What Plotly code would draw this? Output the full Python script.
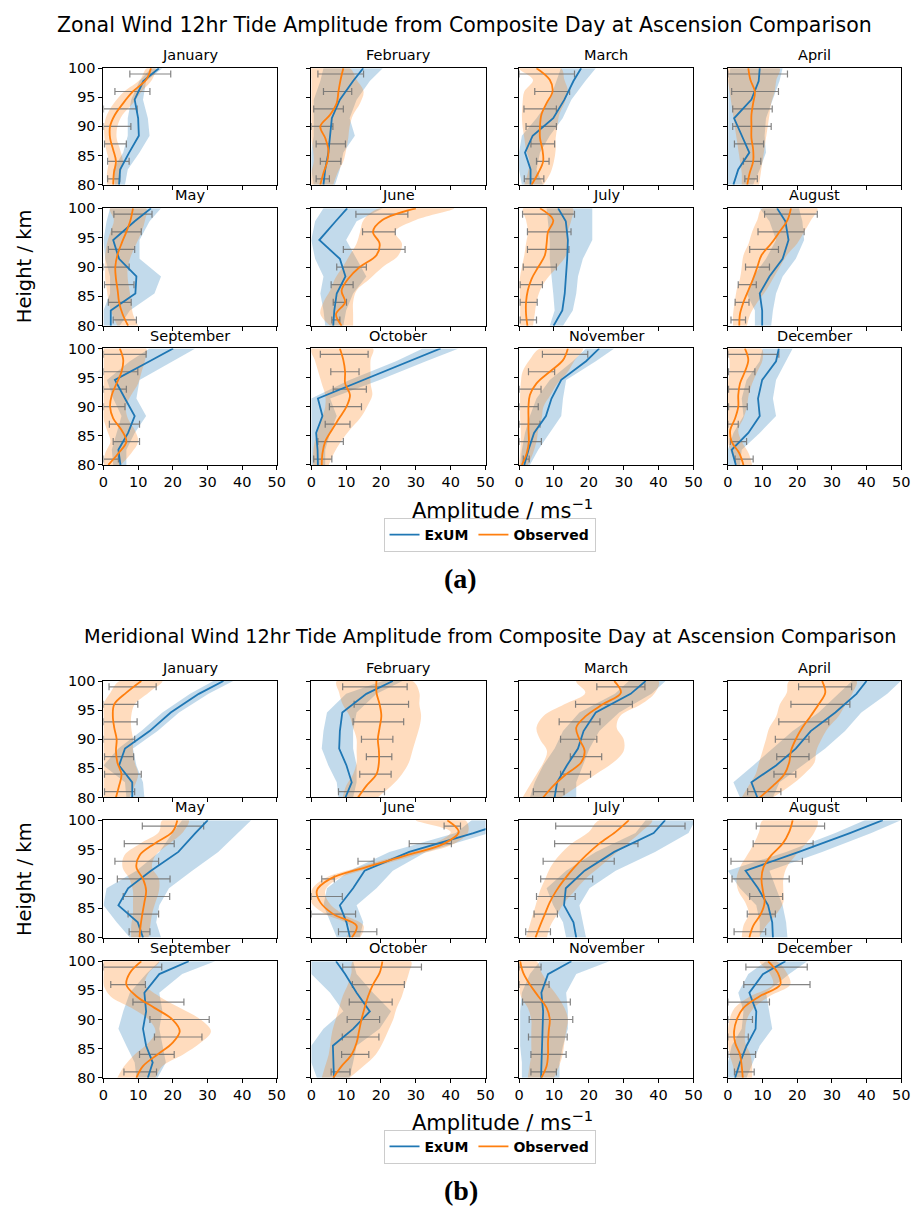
import plotly.graph_objects as go

W, H = 922, 1216

MONTHS = ["January", "February", "March", "April", "May", "June",
          "July", "August", "September", "October", "November", "December"]
MODEL_H = [80, 82.6, 85.5, 88.4, 91.4, 94.6, 97.8, 100]
OBS_H = [80, 82, 84, 86, 88, 90, 92, 94, 96, 98, 100]
ERR_H = [81, 84, 87, 90, 93, 96, 99]
XTICKS = [0, 10, 20, 30, 40, 50]
YTICKS = [80, 85, 90, 95, 100]

# ---------------- (a) Zonal wind ----------------
zonal_model = [
    [4.5, 4.8, 7.4, 10.2, 10.0, 9.0, 11.5, 16.0],
    [3.5, 4.0, 4.9, 5.4, 5.9, 8.2, 12.0, 14.9],
    [3.3, 3.3, 1.7, 3.9, 9.8, 13.0, 15.6, 17.8],
    [1.6, 3.0, 6.2, 4.0, 1.8, 6.8, 8.9, 9.2],
    [2.1, 2.1, 9.2, 9.5, 4.5, 2.8, 9.0, 13.7],
    [6.3, 6.6, 7.3, 9.8, 8.2, 2.3, 7.0, 10.3],
    [9.9, 12.4, 13.1, 13.5, 13.8, 14.0, 13.4, 11.2],
    [9.9, 9.9, 9.2, 12.0, 15.8, 17.5, 16.6, 14.2],
    [4.9, 4.3, 7.1, 9.0, 6.2, 3.3, 13.3, 20.1],
    [1.9, 1.8, 1.4, 3.2, 1.9, 15.2, 28.2, 37.1],
    [1.5, 2.7, 4.3, 7.7, 9.3, 12.1, 19.2, 23.0],
    [2.3, 1.1, 5.9, 9.2, 8.7, 9.9, 13.9, 14.7],
]
zonal_model_lo = [
    [3.3, 2.8, 5.7, 7.0, 7.0, 8.0, 10.4, 13.7],
    [0.7, 0.0, 0.0, 0.7, 0.7, 0.7, 2.6, 3.5],
    [0.8, 0.0, 0.0, 0.8, 5.0, 8.8, 10.7, 12.0],
    [0, 0, 0, 0, 0, 0, 0.2, 0.7],
    [0, 0, 1.9, 1.9, 0.5, 0, 0.9, 1.9],
    [4.0, 3.5, 2.6, 3.5, 1.1, 0.0, 1.1, 3.5],
    [8.8, 10.2, 9.8, 9.3, 8.8, 8.8, 8.3, 7.9],
    [7.8, 7.8, 5.4, 7.3, 11.0, 13.9, 12.0, 9.2],
    [2.8, 2.4, 3.8, 5.2, 2.8, 1.0, 7.6, 13.3],
    [0, 0, 0, 0, 0, 11.0, 24.3, 32.0],
    [0.3, 0.8, 1.7, 3.1, 5.0, 8.8, 15.4, 19.2],
    [0, 0, 1.6, 4.5, 4.0, 5.4, 9.2, 10.0],
]
zonal_model_hi = [
    [6.2, 7.0, 10.4, 13.3, 12.8, 11.4, 12.3, 17.0],
    [6.8, 8.2, 9.2, 12.5, 11.0, 13.0, 16.8, 20.5],
    [6.9, 5.0, 6.0, 8.8, 12.5, 15.0, 19.0, 22.0],
    [7.3, 9.2, 11.0, 10.6, 11.0, 13.0, 14.9, 15.8],
    [4.7, 7.6, 14.7, 16.6, 10.4, 10.4, 13.3, 16.6],
    [9.2, 10.0, 12.0, 15.8, 13.0, 10.0, 13.0, 20.5],
    [12.6, 15.4, 16.4, 16.9, 18.3, 21.0, 21.0, 21.0],
    [12.5, 13.0, 13.9, 15.8, 19.6, 22.0, 21.5, 20.5],
    [6.6, 6.6, 9.0, 12.3, 9.5, 10.4, 19.9, 26.5],
    [4.0, 4.0, 5.4, 7.3, 5.4, 19.6, 32.9, 42.3],
    [3.1, 5.5, 8.8, 12.1, 12.6, 13.5, 22.0, 27.3],
    [3.5, 4.0, 9.2, 13.9, 13.0, 13.9, 16.8, 18.7],
]
zonal_obs = [
    [2.8, 3.0, 3.6, 2.8, 1.9, 1.9, 3.3, 5.7, 8.5, 12.3, 13.7],
    [2.6, 3.5, 4.6, 4.9, 4.0, 2.6, 5.4, 7.3, 7.8, 8.4, 9.2],
    [3.6, 5.5, 6.9, 6.7, 6.0, 6.0, 6.4, 7.9, 9.6, 8.8, 5.0],
    [5.6, 6.3, 7.3, 7.3, 6.8, 6.8, 6.8, 7.3, 7.8, 6.5, 5.9],
    [7.1, 5.5, 4.5, 4.1, 3.6, 3.4, 4.0, 5.2, 6.6, 7.8, 8.5],
    [8.7, 7.1, 9.7, 8.7, 10.6, 13.9, 18.7, 19.6, 17.7, 20.4, 30.0],
    [2.4, 2.0, 2.0, 2.5, 3.6, 5.5, 7.4, 7.9, 8.3, 9.8, 6.0],
    [3.3, 3.5, 4.5, 5.9, 7.3, 8.5, 9.7, 12.5, 14.9, 17.2, 18.2],
    [1.4, 4.3, 6.6, 5.2, 2.8, 1.9, 2.4, 3.8, 5.2, 5.7, 4.7],
    [3.0, 3.2, 4.0, 5.9, 8.0, 10.1, 11.1, 9.7, 9.7, 9.2, 8.2],
    [0.8, 2.2, 2.8, 2.7, 2.7, 2.7, 3.1, 5.0, 8.8, 12.6, 14.0],
    [4.5, 3.3, 1.1, 0.7, 2.1, 3.0, 3.0, 3.5, 4.9, 5.9, 4.9],
]
zonal_obs_lo = [
    [1.0, 1.0, 1.5, 0.8, 0.3, 0.2, 1.0, 3.0, 6.0, 10.5, 12.5],
    [0, 0, 0.7, 0.5, 0, 0, 0, 0, 0, 0, 0],
    [1.5, 2.5, 3.0, 2.0, 1.5, 1.0, 0.8, 1.0, 1.5, 4.0, 0.0],
    [4.0, 4.0, 3.5, 3.0, 2.5, 2.0, 1.5, 1.0, 0.5, 0.0, 0.0],
    [4.0, 2.5, 1.5, 1.0, 0.5, 0.5, 0.5, 1.0, 2.0, 3.0, 1.9],
    [5.4, 2.6, 3.5, 5.4, 6.8, 9.0, 11.0, 13.0, 14.0, 15.0, 19.6],
    [0.3, 0.3, 0.3, 0.2, 0.2, 0.8, 1.5, 2.0, 2.5, 2.0, 1.2],
    [1.5, 1.5, 2.0, 2.5, 3.5, 4.0, 4.5, 6.0, 7.0, 8.5, 10.0],
    [0, 0.5, 2.0, 1.0, 0, 0, 0, 0, 0, 0, 0],
    [0.5, 0.5, 1.0, 2.0, 3.0, 4.0, 4.0, 3.0, 2.0, 1.0, 0.0],
    [0, 0.3, 0.5, 0.5, 0.3, 0.3, 0.3, 0.5, 1.0, 3.0, 6.0],
    [2.5, 1.0, 0, 0, 0, 0, 0, 0, 0.5, 0.5, 0],
]
zonal_obs_hi = [
    [4.5, 5.0, 5.6, 4.8, 3.8, 4.0, 5.5, 8.5, 11.0, 14.0, 15.0],
    [6.3, 7.5, 9.2, 10.0, 10.6, 11.0, 12.0, 14.0, 15.0, 13.0, 11.0],
    [7.0, 9.0, 10.0, 10.5, 10.5, 11.0, 11.5, 13.0, 14.0, 13.0, 12.0],
    [9.0, 9.5, 10.0, 10.5, 11.0, 11.5, 12.0, 12.5, 13.5, 14.0, 14.9],
    [10.0, 8.5, 8.0, 7.5, 7.0, 7.0, 8.0, 9.5, 11.0, 12.0, 12.3],
    [12.0, 12.0, 12.0, 13.0, 16.8, 20.5, 25.0, 26.0, 24.0, 30.0, 41.0],
    [4.0, 4.5, 5.0, 6.0, 8.0, 11.0, 13.5, 14.0, 14.0, 15.0, 15.4],
    [5.5, 6.5, 8.5, 11.0, 13.0, 15.0, 17.0, 20.0, 22.0, 24.0, 25.8],
    [5.0, 8.0, 10.0, 9.0, 7.0, 6.5, 8.0, 10.0, 11.0, 12.0, 12.3],
    [5.0, 6.5, 8.5, 11.0, 14.0, 16.0, 17.5, 17.0, 17.0, 17.0, 17.7],
    [2.5, 4.0, 5.0, 5.5, 6.5, 7.0, 9.0, 11.0, 14.0, 16.0, 18.3],
    [7.0, 6.0, 4.0, 3.0, 4.5, 5.5, 6.0, 7.0, 8.5, 10.0, 9.7],
]
zonal_err_lo = [
    [1.2, 1.2, 0.3, 0.0, 0.0, 3.3, 7.6],
    [1.4, 2.6, 1.4, 0.0, 0.7, 3.5, 1.9],
    [1.5, 5.0, 3.4, 2.0, 1.4, 4.5, 0.0],
    [4.9, 4.5, 1.9, 1.4, 1.4, 1.1, 0.0],
    [2.8, 1.4, 0.3, 0.0, 1.4, 2.4, 3.0],
    [5.9, 6.3, 5.7, 7.3, 9.2, 14.7, 12.8],
    [0.3, 0.3, 0.3, 1.2, 2.4, 2.4, 1.0],
    [0.9, 2.1, 3.0, 5.1, 6.3, 8.7, 10.6],
    [0.0, 2.8, 1.7, 0.0, 0.0, 0.0, 0.0],
    [0.7, 1.9, 4.0, 5.2, 6.3, 5.6, 2.6],
    [1.2, 0.0, 0.0, 0.0, 0.0, 2.7, 6.7],
    [2.1, 0.7, 0.0, 0.2, 0.2, 0.2, 0.0],
]
zonal_err_hi = [
    [4.7, 7.4, 6.6, 7.9, 9.7, 13.4, 19.4],
    [5.2, 8.5, 9.8, 6.2, 9.2, 11.6, 15.0],
    [7.1, 8.6, 10.2, 10.7, 10.7, 14.5, 15.9],
    [8.5, 9.5, 10.3, 12.5, 12.8, 14.6, 17.2],
    [9.5, 8.0, 8.8, 7.4, 9.0, 10.9, 14.0],
    [8.2, 10.1, 12.0, 15.8, 26.9, 24.1, 27.7],
    [5.0, 5.2, 6.7, 10.7, 14.3, 14.9, 15.9],
    [5.1, 6.1, 8.2, 12.0, 14.6, 22.0, 25.8],
    [4.3, 10.4, 10.4, 6.2, 6.6, 9.9, 12.3],
    [5.9, 9.2, 11.1, 14.4, 15.8, 13.7, 16.3],
    [2.9, 6.4, 6.0, 5.5, 6.3, 10.2, 19.7],
    [7.3, 5.4, 3.0, 5.6, 6.2, 7.8, 14.7],
]

# ---------------- (b) Meridional wind ----------------
merid_model = [
    [8.3, 8.3, 4.5, 6.2, 13.3, 19.4, 27.5, 34.6],
    [9.8, 11.6, 10.1, 8.0, 8.2, 8.9, 15.8, 23.4],
    [10.2, 10.9, 13.7, 16.9, 18.5, 22.0, 32.0, 36.3],
    [8.5, 6.8, 13.9, 19.6, 23.9, 31.0, 37.1, 40.0],
    [11.4, 9.9, 4.3, 7.1, 13.7, 21.6, 26.5, 30.1],
    [11.1, 10.1, 8.2, 12.0, 15.3, 28.1, 46.5, 58.0],
    [16.4, 15.6, 12.9, 13.4, 18.8, 27.3, 38.6, 41.9],
    [13.0, 12.8, 11.6, 8.7, 5.1, 20.5, 35.2, 44.7],
    [12.8, 14.2, 12.3, 11.4, 12.3, 11.8, 16.1, 24.6],
    [6.5, 6.3, 6.2, 12.0, 16.8, 13.0, 9.7, 7.1],
    [6.3, 6.4, 6.6, 6.7, 6.9, 6.4, 8.3, 15.0],
    [2.1, 3.5, 5.4, 8.0, 8.2, 6.2, 10.1, 16.6],
]
merid_model_lo = [
    [6.6, 6.2, 0, 4.3, 10.9, 17.0, 25.0, 31.7],
    [7.8, 7.3, 4.9, 3.0, 3.5, 4.5, 10.0, 20.5],
    [3.1, 4.5, 6.9, 10.2, 12.6, 17.3, 27.5, 31.5],
    [3.5, 1.6, 7.3, 13.0, 18.7, 26.2, 31.9, 35.8],
    [7.6, 3.8, 0, 0.9, 9.5, 16.1, 19.9, 22.7],
    [7.3, 5.4, 3.5, 4.5, 11.0, 22.4, 41.4, 46.0],
    [13.5, 12.6, 9.8, 7.9, 13.5, 22.0, 33.4, 36.3],
    [9.2, 9.2, 8.2, 3.5, 0, 16.8, 31.0, 39.5],
    [9.5, 9.0, 6.6, 4.3, 5.7, 7.6, 12.3, 16.1],
    [1.6, 0, 0, 3.5, 9.2, 5.4, 0, 0],
    [0.8, 0.8, 0.3, 0.3, 0.3, 0.8, 3.1, 6.0],
    [0, 0, 1.1, 4.0, 4.5, 3.0, 5.9, 11.0],
]
merid_model_hi = [
    [11.8, 11.4, 9.5, 8.5, 15.6, 21.8, 30.3, 37.4],
    [12.0, 13.0, 13.0, 12.0, 12.0, 13.0, 18.7, 26.2],
    [16.4, 16.4, 18.3, 20.2, 23.0, 28.7, 38.0, 42.0],
    [13.0, 14.9, 21.5, 28.1, 33.8, 38.5, 46.0, 49.9],
    [16.6, 15.2, 16.1, 18.9, 25.6, 33.1, 38.8, 42.6],
    [13.9, 14.9, 13.0, 18.7, 23.4, 32.9, 51.0, 58.0],
    [19.2, 18.3, 17.3, 20.2, 27.7, 39.0, 48.6, 50.5],
    [17.2, 16.8, 15.8, 13.9, 12.0, 27.2, 41.4, 49.9],
    [15.6, 18.0, 17.0, 16.1, 17.0, 16.1, 22.7, 32.2],
    [11.0, 12.0, 13.0, 19.6, 22.9, 17.7, 13.0, 12.0],
    [11.6, 11.6, 12.6, 14.0, 14.0, 13.5, 16.4, 25.9],
    [5.4, 7.3, 9.2, 12.8, 12.0, 11.0, 17.7, 22.9],
]
merid_obs = [
    [3.6, 4.5, 5.2, 4.0, 3.6, 3.8, 3.1, 2.7, 3.1, 6.6, 10.9],
    [13.4, 15.8, 18.7, 19.4, 19.4, 19.1, 19.6, 20.1, 19.6, 18.7, 18.7],
    [6.9, 9.8, 13.5, 17.8, 18.8, 17.3, 16.4, 19.2, 24.0, 29.2, 27.3],
    [9.2, 13.0, 16.3, 17.7, 18.2, 19.6, 21.5, 23.9, 26.2, 28.1, 27.2],
    [10.4, 10.7, 11.2, 11.8, 12.3, 11.4, 9.5, 10.4, 14.7, 19.9, 21.3],
    [11.6, 13.0, 6.3, 2.6, 1.6, 5.4, 15.8, 27.2, 38.1, 42.3, 39.0],
    [4.7, 6.0, 7.4, 8.8, 10.7, 13.1, 15.9, 19.2, 23.0, 27.7, 31.5],
    [6.2, 7.3, 9.5, 10.6, 10.1, 9.7, 10.3, 12.5, 15.8, 17.7, 18.7],
    [9.5, 11.4, 15.6, 19.9, 22.0, 19.9, 14.7, 9.5, 6.6, 7.6, 10.9],
    [6.3, 8.7, 11.6, 13.0, 13.7, 14.4, 15.3, 16.3, 17.7, 19.6, 20.4],
    [6.4, 7.9, 8.3, 8.3, 8.5, 8.8, 7.9, 5.5, 3.1, 1.2, 0.3],
    [4.3, 4.0, 3.5, 2.1, 1.8, 2.6, 4.5, 9.2, 15.1, 14.4, 11.6],
]
merid_obs_lo = [
    [0, 0, 0, 0, 0, 0, 0, 0, 0, 2.0, 4.7],
    [9, 10, 12, 13, 13, 13, 12, 11, 9, 8, 7.3],
    [1, 3, 5, 7, 8, 6, 5, 7, 13, 19, 16.4],
    [4, 6, 8, 9, 10, 11, 12, 14, 15, 17, 17.7],
    [8, 8, 8.5, 8.5, 8.5, 7.5, 5.5, 6, 10.5, 16, 17],
    [10, 11, 4, 0, 0, 3.5, 13.5, 25, 35, 40, 30],
    [2, 3, 4, 5, 6, 7.5, 9, 11.5, 15, 20, 23],
    [4, 4.5, 6, 5, 3, 2.5, 3.5, 5.5, 7.5, 9, 10.1],
    [4, 6, 9, 13, 15, 13, 8, 2, 0, 0, 0],
    [3, 4, 5, 5.5, 6, 7, 8, 9, 10.5, 11.5, 12],
    [2.5, 3, 3.5, 3.5, 3.5, 3.5, 2.5, 0.5, 0, 0, 0],
    [2, 1.5, 0.5, 0, 0, 0.5, 2, 6.5, 13, 12, 9.2],
]
merid_obs_hi = [
    [7.5, 9.0, 10.0, 9.0, 8.5, 8.5, 8.0, 8.0, 9.0, 13.0, 17.0],
    [19, 23, 26, 28, 29, 30, 31, 31.5, 31, 31, 29],
    [12, 17, 22, 27, 30, 30, 28, 29, 35, 39, 40],
    [13, 18, 22, 25, 25.5, 27, 29, 32, 34, 36, 37.1],
    [13, 13.5, 14, 15, 16, 16, 14, 15, 19, 23, 24.6],
    [14, 15, 9, 5, 4, 7.5, 18, 29.5, 41, 45, 44.2],
    [8, 9, 11, 13, 16, 19, 23, 27, 31, 35, 38.2],
    [9, 11, 14, 16, 16, 16, 17, 19.5, 22.5, 25, 25.8],
    [15, 17, 23, 28, 31, 28, 22, 16, 12, 13, 16.1],
    [11, 15, 18.5, 20.5, 22, 23.5, 24.5, 26, 27, 28, 28.6],
    [10, 11.5, 12.5, 13, 13.5, 14, 13, 11, 8.5, 6.5, 5],
    [7, 7, 6.5, 5, 5, 5.5, 7.5, 12, 18, 17, 14],
]
merid_err_lo = [
    [0.3, 0.3, 0.3, 0.0, 0.0, 0.0, 1.6],
    [7.8, 13.9, 15.8, 14.4, 12.0, 12.3, 9.0],
    [4.1, 11.9, 14.7, 11.9, 11.5, 16.2, 22.3],
    [5.7, 13.3, 14.1, 13.7, 14.7, 18.2, 20.4],
    [7.4, 7.1, 5.7, 4.0, 3.3, 6.0, 11.2],
    [7.8, 0.0, 0.0, 3.0, 13.4, 28.1, 38.1],
    [1.9, 4.3, 5.0, 6.2, 6.9, 10.2, 10.5],
    [1.8, 5.6, 6.3, 1.2, 0.9, 7.3, 8.2],
    [5.9, 10.4, 14.7, 13.4, 8.5, 2.1, 0.0],
    [5.7, 8.7, 8.9, 10.3, 10.9, 11.8, 9.0],
    [3.4, 3.4, 2.7, 2.9, 1.0, 0.0, 0.0],
    [1.9, 0.0, 0.0, 0.0, 0.0, 4.6, 5.2],
]
merid_err_hi = [
    [9.0, 10.9, 8.7, 9.0, 9.7, 9.9, 15.2],
    [21.0, 22.9, 23.1, 23.4, 26.5, 27.9, 27.5],
    [12.9, 20.5, 23.7, 22.3, 23.2, 32.5, 36.1],
    [15.3, 19.6, 23.4, 23.4, 29.1, 35.2, 35.7],
    [13.4, 15.9, 19.1, 19.2, 15.9, 20.4, 28.9],
    [18.8, 12.7, 8.9, 6.6, 18.0, 40.2, 42.8],
    [9.0, 11.0, 16.1, 21.1, 27.3, 34.1, 47.6],
    [10.9, 13.7, 15.8, 17.7, 21.5, 24.6, 27.9],
    [15.3, 20.4, 28.4, 30.5, 23.2, 12.1, 16.8],
    [11.1, 16.5, 19.4, 19.6, 23.2, 26.7, 31.6],
    [10.7, 13.5, 13.8, 15.4, 14.7, 8.6, 6.3],
    [7.6, 8.0, 5.9, 7.1, 12.0, 23.7, 22.9],
]

TITLE_A = "Zonal Wind 12hr Tide Amplitude from Composite Day at Ascension Comparison"
TITLE_B = "Meridional Wind 12hr Tide Amplitude from Composite Day at Ascension Comparison"

BLUE = "#1f77b4"
ORANGE = "#ff7f0e"
BLUE_FILL = "rgba(31,119,180,0.27)"
ORANGE_FILL = "rgba(255,127,14,0.27)"
ERR_COLOR = "rgba(110,110,110,0.85)"
FONT = "DejaVu Sans"

# layout geometry (pixels)
COLS = [(100, 276), (311, 488), (522, 699), (734, 910)]
ROWS_A = [(61, 179), (203, 322), (345, 463)]
ROWS_B = [(682, 800), (823, 942), (966, 1084)]


def px_x(p):
    return p / W


def px_y(p):
    return 1 - p / H


fig = go.Figure()
layout = dict(
    width=W, height=H,
    margin=dict(l=0, r=0, t=0, b=0),
    paper_bgcolor="white", plot_bgcolor="white",
    font=dict(family=FONT, color="black", size=14),
)
annotations = []

groups = [
    ("a", ROWS_A, zonal_model, zonal_model_lo, zonal_model_hi, zonal_obs,
     zonal_obs_lo, zonal_obs_hi, zonal_err_lo, zonal_err_hi, "legend"),
    ("b", ROWS_B, merid_model, merid_model_lo, merid_model_hi, merid_obs,
     merid_obs_lo, merid_obs_hi, merid_err_lo, merid_err_hi, "legend2"),
]

idx = 0
for (tag, rows, m, mlo, mhi, o, olo, ohi, elo, ehi, leg) in groups:
    for k, month in enumerate(MONTHS):
        idx += 1
        r, c = divmod(k, 4)
        (x0, x1), (y0, y1) = COLS[c], rows[r]
        xa = "x" if idx == 1 else f"x{idx}"
        ya = "y" if idx == 1 else f"y{idx}"
        xkey = "xaxis" if idx == 1 else f"xaxis{idx}"
        ykey = "yaxis" if idx == 1 else f"yaxis{idx}"
        layout[xkey] = dict(
            domain=[px_x(x0), px_x(x1)], range=[0, 50], anchor=ya,
            tickvals=XTICKS, showticklabels=(r == 2),
            ticks="outside", ticklen=4, tickwidth=1, tickcolor="black",
            showline=True, linecolor="black", linewidth=1, mirror=True,
            showgrid=False, zeroline=False, tickfont=dict(size=14.5),
        )
        layout[ykey] = dict(
            domain=[px_y(y1), px_y(y0)], range=[80, 100], anchor=xa,
            tickvals=YTICKS, showticklabels=(c == 0),
            ticks="outside", ticklen=4, tickwidth=1, tickcolor="black",
            showline=True, linecolor="black", linewidth=1, mirror=True,
            showgrid=False, zeroline=False, tickfont=dict(size=14.5),
        )
        # bands
        fig.add_trace(go.Scatter(
            x=mlo[k] + mhi[k][::-1], y=MODEL_H + MODEL_H[::-1],
            fill="toself", fillcolor=BLUE_FILL, line=dict(width=0),
            mode="lines", hoverinfo="skip", showlegend=False, xaxis=xa, yaxis=ya))
        fig.add_trace(go.Scatter(
            x=olo[k] + ohi[k][::-1], y=OBS_H + OBS_H[::-1],
            fill="toself", fillcolor=ORANGE_FILL,
            line=dict(width=0, shape="spline", smoothing=1),
            mode="lines", hoverinfo="skip", showlegend=False, xaxis=xa, yaxis=ya))
        # error bars
        centers = [(a + b) / 2 for a, b in zip(elo[k], ehi[k])]
        fig.add_trace(go.Scatter(
            x=centers, y=ERR_H, mode="markers",
            marker=dict(size=1, color="rgba(0,0,0,0)"),
            error_x=dict(type="data", symmetric=False,
                         array=[b - cc for b, cc in zip(ehi[k], centers)],
                         arrayminus=[cc - a for a, cc in zip(elo[k], centers)],
                         color=ERR_COLOR, thickness=1.2, width=3.5),
            hoverinfo="skip", showlegend=False, xaxis=xa, yaxis=ya))
        # lines
        fig.add_trace(go.Scatter(
            x=m[k], y=MODEL_H, mode="lines", line=dict(color=BLUE, width=1.8),
            name="<b>ExUM</b>", showlegend=(k == 0), legend=leg,
            xaxis=xa, yaxis=ya))
        fig.add_trace(go.Scatter(
            x=o[k], y=OBS_H, mode="lines",
            line=dict(color=ORANGE, width=1.8, shape="spline", smoothing=1),
            name="<b>Observed</b>", showlegend=(k == 0), legend=leg,
            xaxis=xa, yaxis=ya))
        # month title
        annotations.append(dict(
            text=month, x=px_x((x0 + x1) / 2), y=px_y(y0 - 3),
            xref="paper", yref="paper", xanchor="center", yanchor="bottom",
            showarrow=False, font=dict(size=14.5, family=FONT)))

# figure-level text
for title, tx, ty, fs in [(TITLE_A, 467, 17, 20.5), (TITLE_B, 492, 637, 19.3)]:
    annotations.append(dict(text=title, x=px_x(tx), y=px_y(ty), xref="paper", yref="paper",
                            xanchor="center", yanchor="middle", showarrow=False,
                            font=dict(size=fs, family=FONT)))
for rows, ly in [(ROWS_A, 508), (ROWS_B, 1128)]:
    annotations.append(dict(text="Height / km", x=px_x(20), y=px_y((rows[0][0] + rows[2][1]) / 2),
                            xref="paper", yref="paper", xanchor="center", yanchor="middle",
                            textangle=-90, showarrow=False, font=dict(size=19.5, family=FONT)))
    annotations.append(dict(text="Amplitude / ms<sup>\u22121</sup>", x=px_x(505), y=px_y(ly),
                            xref="paper", yref="paper", xanchor="center", yanchor="middle",
                            showarrow=False, font=dict(size=21, family=FONT)))
for lab, ly in [("(a)", 578), ("(b)", 1198)]:
    annotations.append(dict(text=f"<b>{lab}</b>", x=px_x(463), y=px_y(ly), xref="paper", yref="paper",
                            xanchor="center", yanchor="middle", showarrow=False,
                            font=dict(size=28, family="Liberation Serif")))

layout["annotations"] = annotations
legend_common = dict(orientation="h", xanchor="center", yanchor="middle",
                     bordercolor="#cccccc", borderwidth=1, bgcolor="white",
                     font=dict(size=14, family=FONT), itemwidth=30)
layout["legend"] = dict(x=px_x(492), y=px_y(534), **legend_common)
layout["legend2"] = dict(x=px_x(492), y=px_y(1154), **legend_common)

fig.update_layout(**layout)
fig.write_html(
    "out.html",
    config={"displayModeBar": False},
    post_script="document.body.style.margin='0px';document.body.style.padding='0px';"
                "document.documentElement.style.overflow='hidden';",
)
